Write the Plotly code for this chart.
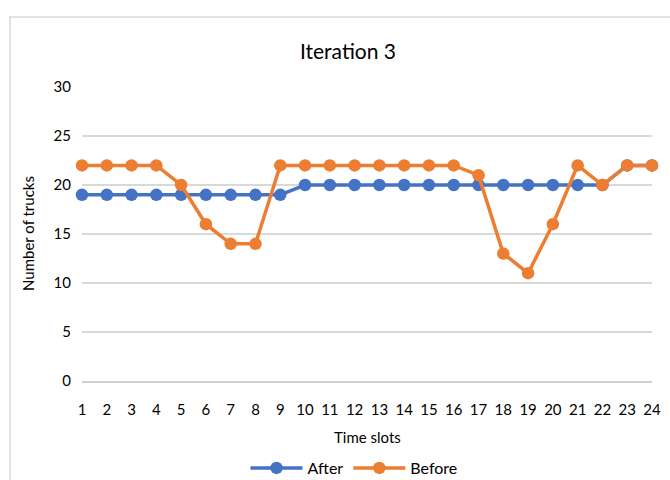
import plotly.graph_objects as go

time_slots = list(range(1, 25))
after = [19, 19, 19, 19, 19, 19, 19, 19, 19, 20, 20, 20, 20, 20, 20, 20, 20, 20, 20, 20, 20, 20, 22, 22]
before = [22, 22, 22, 22, 20, 16, 14, 14, 22, 22, 22, 22, 22, 22, 22, 22, 21, 13, 11, 16, 22, 20, 22, 22]

L, R, T, B = 82, 18, 87, 99
W, H = 670, 480
pw, ph = W - L - R, H - T - B


def px_x(x):
    return (x - L) / pw


def px_y(y):
    return ((T + ph) - y) / ph


fig = go.Figure()
fig.add_trace(go.Scatter(x=time_slots, y=after, name="After", mode="lines+markers",
                         line=dict(color="#4472C4", width=3.5),
                         marker=dict(size=12.5, color="#4472C4")))
fig.add_trace(go.Scatter(x=time_slots, y=before, name="Before", mode="lines+markers",
                         line=dict(color="#ED7D31", width=3.5),
                         marker=dict(size=12.5, color="#ED7D31")))

font = "Lato, Open Sans, sans-serif"
fig.update_layout(
    width=W, height=H,
    margin=dict(l=L, r=R, t=T, b=B, autoexpand=False),
    paper_bgcolor="white", plot_bgcolor="white",
    font=dict(family=font, size=15, color="#000000"),
    title=dict(text="Iteration 3", x=348 / W, xanchor="center",
               y=1 - 52 / H, yanchor="middle", font=dict(size=21, family=font)),
    xaxis=dict(range=[1, 24], tickmode="array", tickvals=time_slots,
               ticktext=[str(t) for t in time_slots], automargin=False,
               showgrid=False, showline=True, linecolor="#D0D0D0", linewidth=1.5,
               ticks="", zeroline=False, ticklabelstandoff=14),
    yaxis=dict(range=[0, 30], dtick=5, showgrid=True, gridcolor="#D9D9D9", gridwidth=1.5,
               zeroline=False, showline=False, ticks="", automargin=False,
               ticklabelstandoff=10),
    legend=dict(orientation="h", x=px_x(354), xanchor="center", y=px_y(468),
                yanchor="middle", font=dict(size=16), bgcolor="rgba(0,0,0,0)",
                itemwidth=52, tracegroupgap=0),
    showlegend=True,
)
fig.update_traces(cliponaxis=False)

fig.add_annotation(text="Time slots", xref="paper", yref="paper", x=px_x(367), y=px_y(437),
                   xanchor="center", yanchor="middle", showarrow=False, font=dict(size=15))
fig.add_annotation(text="Number of trucks", xref="paper", yref="paper", x=px_x(28), y=px_y(234),
                   xanchor="center", yanchor="middle", showarrow=False, textangle=-90,
                   font=dict(size=15))

fig.add_shape(type="rect", xref="paper", yref="paper",
              x0=px_x(10), x1=px_x(W + 5),
              y0=px_y(H + 5), y1=px_y(17),
              line=dict(color="#D9D9D9", width=1.5), fillcolor="rgba(0,0,0,0)", layer="below")

fig.write_html("out.html")
